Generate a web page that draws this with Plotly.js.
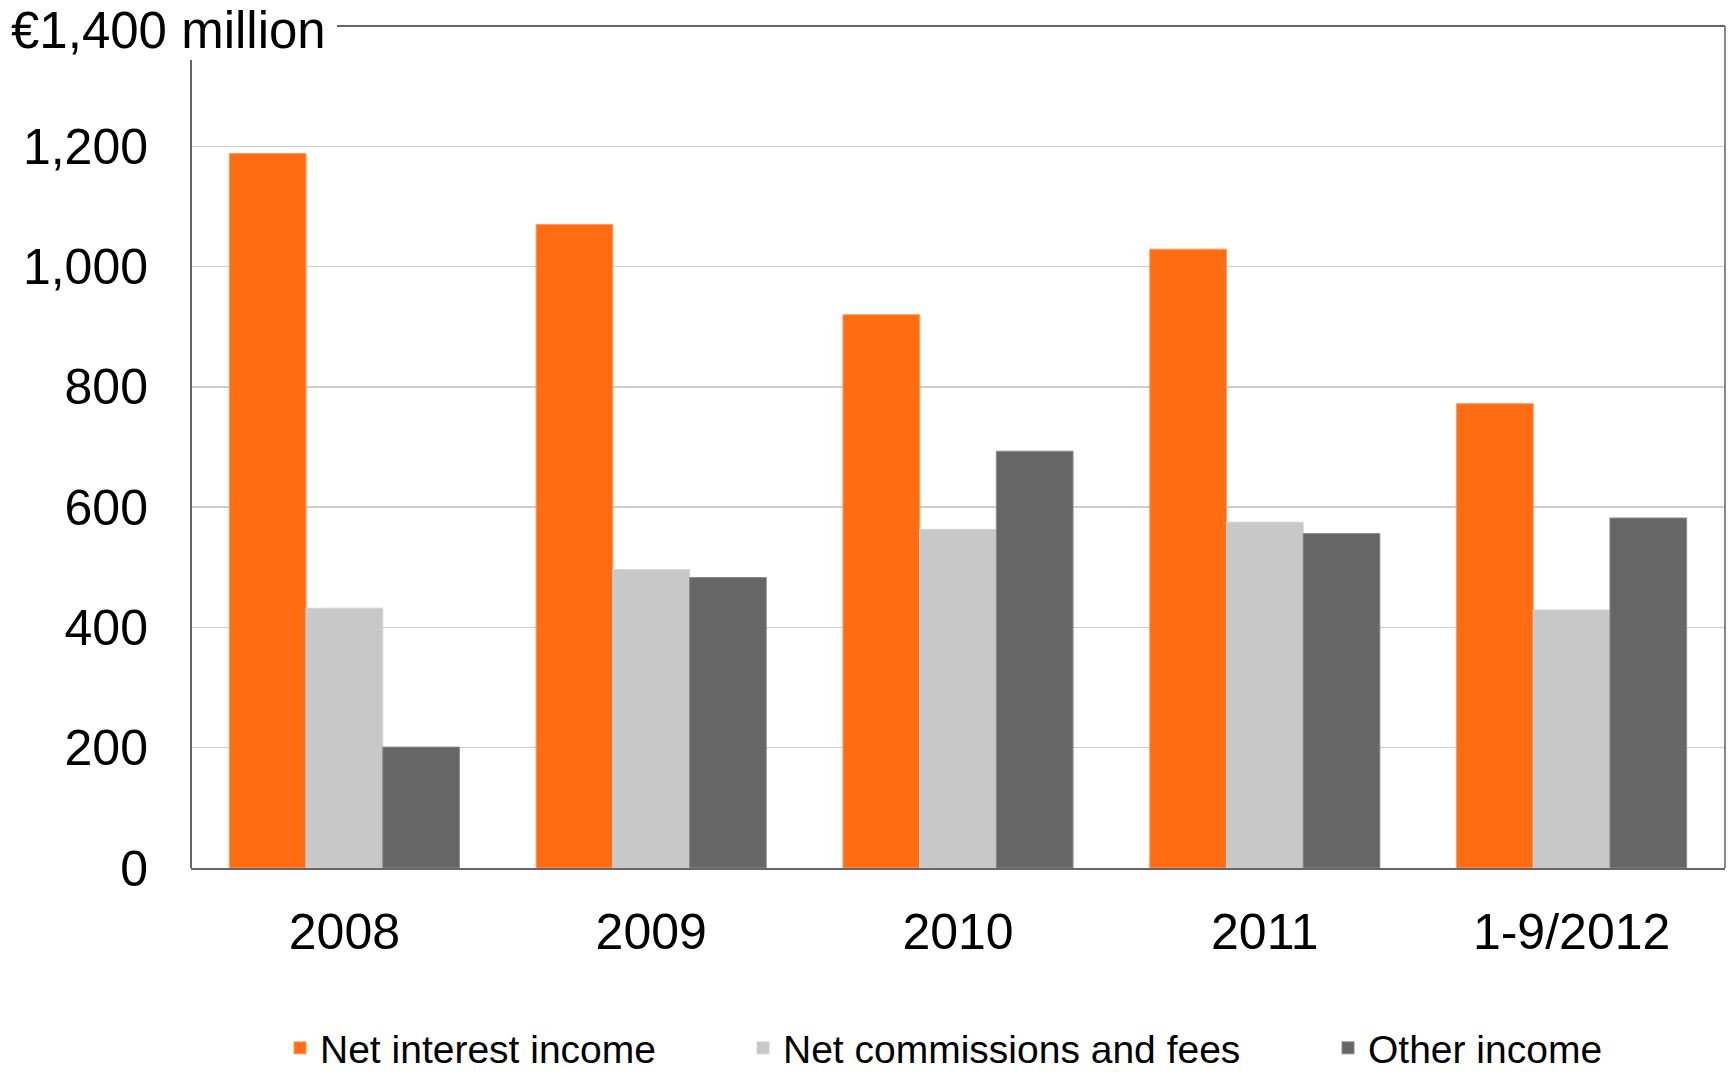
<!DOCTYPE html>
<html>
<head>
<meta charset="utf-8">
<script src="https://cdn.plot.ly/plotly-3.0.1.min.js"></script>
<style>html,body{margin:0;padding:0;background:#fff;}#chart{width:1729px;height:1074px;}</style>
</head>
<body>
<div id="chart"></div>
<script>
const periods = ["2008", "2009", "2010", "2011", "1-9/2012"];
const netInterestIncome = [1188, 1070, 920, 1029, 772];
const netCommissionsFees = [432, 496, 563, 575, 429];
const otherIncome = [201, 483, 693, 556, 582];
const seriesNames = ["Net interest income", "Net commissions and fees", "Other income"];
const yTickVals = [0, 200, 400, 600, 800, 1000, 1200];
const unitLabel = "€1,400 million";

const FONT = "Liberation Sans, Arial, Helvetica, sans-serif";
const W = 1729, H = 1074;
const M = {l: 191, r: 4, t: 26, b: 206, autoexpand: false};
const PW = W - M.l - M.r, PH = H - M.t - M.b;
const px = v => (v - M.l) / PW;
const py = v => (H - M.b - v) / PH;

const colors = ["#ff6c11", "#c8c8c8", "#666666"];
const edge = ["#ff9b5e", "#d2d2d2", "#8a8a8a"];
const vals = [netInterestIncome, netCommissionsFees, otherIncome];
const legendIds = ["legend", "legend2", "legend3"];

const traces = vals.map((v, i) => ({
  type: "bar",
  name: seriesNames[i],
  x: periods,
  y: v,
  marker: {color: colors[i], line: {color: edge[i], width: 1}},
  legend: legendIds[i],
  hoverinfo: "skip"
}));

const legendX = [289, 752, 1337];
const legendBase = (xpix) => ({
  orientation: "h",
  x: px(xpix - 9),
  xanchor: "left",
  y: py(1048),
  yanchor: "middle",
  font: {family: FONT, size: 39, color: "#000"},
  bgcolor: "rgba(0,0,0,0)",
  itemclick: false,
  itemdoubleclick: false
});

const layout = {
  width: W, height: H,
  margin: M,
  paper_bgcolor: "#fff",
  plot_bgcolor: "#fff",
  barmode: "group",
  bargap: 0.25,
  bargroupgap: 0,
  showlegend: true,
  legend: legendBase(legendX[0]),
  legend2: legendBase(legendX[1]),
  legend3: legendBase(legendX[2]),
  font: {family: FONT, color: "#000"},
  xaxis: {
    type: "category",
    showgrid: false,
    showline: true,
    linecolor: "#666666",
    linewidth: 2,
    ticks: "",
    ticklabelstandoff: 19,
    tickfont: {family: FONT, size: 50, color: "#000"},
    fixedrange: true
  },
  yaxis: {
    range: [0, 1400],
    tickvals: yTickVals,
    tickformat: ",d",
    showgrid: true,
    gridcolor: "#cccccc",
    gridwidth: 1.5,
    zeroline: false,
    showline: false,
    ticks: "",
    ticklabelstandoff: 42,
    tickfont: {family: FONT, size: 50, color: "#000"},
    fixedrange: true
  },
  shapes: [
    {type: "line", xref: "paper", yref: "paper", x0: px(337), x1: 1, y0: 1, y1: 1, line: {color: "#666666", width: 2}},
    {type: "line", xref: "paper", yref: "paper", x0: 1, x1: 1, y0: 0, y1: 1, line: {color: "#888888", width: 2}},
    {type: "line", xref: "paper", yref: "paper", x0: 0, x1: 0, y0: 0, y1: py(60), line: {color: "#666666", width: 2}}
  ],
  annotations: [
    {text: unitLabel, xref: "paper", yref: "paper", x: px(9), y: 1, xanchor: "left", yanchor: "middle",
     yshift: -4, showarrow: false, font: {family: FONT, size: 51, color: "#000"}}
  ]
};

Plotly.newPlot("chart", traces, layout, {displayModeBar: false, staticPlot: true});
</script>
</body>
</html>
